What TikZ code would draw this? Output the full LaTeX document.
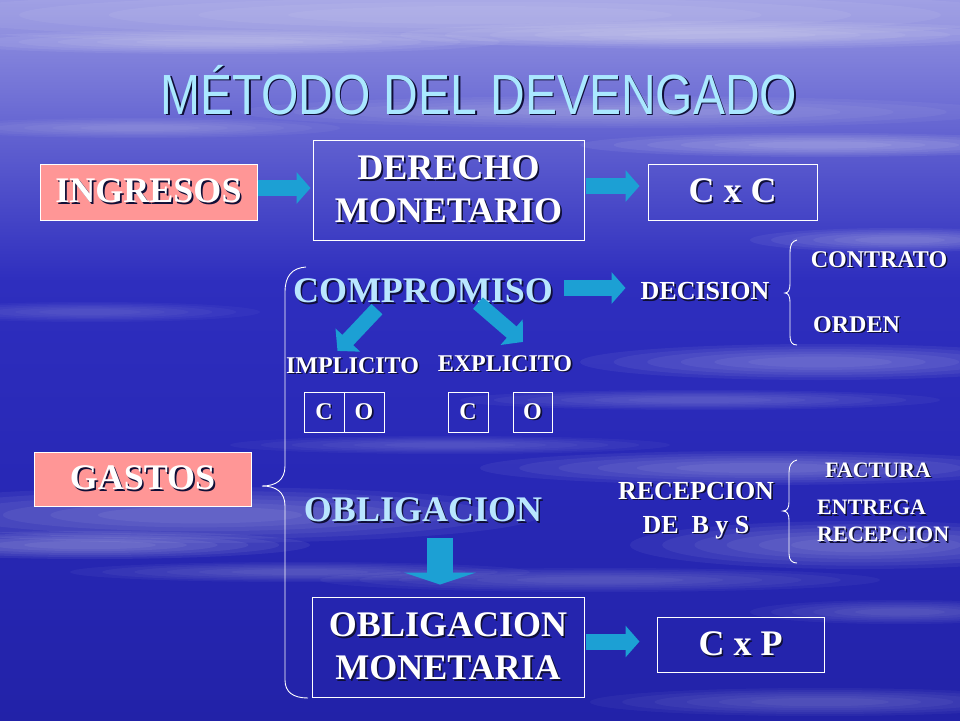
\documentclass[tikz,border=0pt]{standalone}
\usepackage{fontspec}
\usepackage{graphicx}
\setmainfont{Liberation Serif}
\newfontfamily\titlefont{Liberation Sans}
\usetikzlibrary{arrows.meta}
\definecolor{pinkc}{RGB}{255,150,150}
\definecolor{arrc}{RGB}{28,160,212}
\definecolor{cyanc}{RGB}{185,230,255}
\definecolor{titc}{RGB}{170,232,255}
\definecolor{shc}{RGB}{15,15,55}
\definecolor{bga}{RGB}{150,150,226}
\definecolor{bgb}{RGB}{96,96,208}
\definecolor{bgc}{RGB}{46,46,190}
\definecolor{bgd}{RGB}{40,40,182}
\definecolor{bge}{RGB}{34,34,168}
\newcommand\shtext[1]{\makebox[0pt][l]{\kern1.6pt\raisebox{-1.6pt}{\textcolor{shc}{#1}}}#1}
\newcommand\streak[5]{%
  \foreach \k in {1,0.86,0.72,0.58,0.44,0.3}{\fill[white,opacity=#5*0.45] (#1,#2) ellipse [x radius=\k*#3, y radius=\k*#4];}}
\tikzset{
  bigfont/.style={font=\bfseries\fontsize{36}{43}\selectfont},
  midfont/.style={font=\bfseries\fontsize{26}{34}\selectfont},
  smallfont/.style={font=\bfseries\fontsize{24}{28}\selectfont},
  tinyfont/.style={font=\bfseries\fontsize{22}{27}\selectfont},
  pinkbox/.style={fill=pinkc, draw=white, line width=1pt, inner sep=0pt, text=white, bigfont},
  wbox/.style={draw=white, line width=1pt, inner sep=0pt, text=white, align=center},
  lbl/.style={text=white, inner sep=2pt},
  cyanlbl/.style={text=cyanc, inner sep=2pt, bigfont},
  cobox/.style={draw=white, line width=1pt, minimum width=40pt, minimum height=40pt, inner sep=0pt, text=white, smallfont},
  barrow/.style={draw=arrc, line width=16pt, -{Triangle[width=31pt,length=14pt]}},
  darrow/.style={draw=arrc, line width=15pt, -{Triangle[width=33pt,length=15pt]}},
  downarrow/.style={draw=arrc, line width=26pt, -{Triangle[width=72pt,length=12pt]}},
  bracec/.style={draw=white, line width=0.9pt}
}
\begin{document}
\begin{tikzpicture}[x=1pt,y=-1pt]
\useasboundingbox (0,0) rectangle (960,720);
% background
\shade[top color=bga, bottom color=bgb] (0,0) rectangle (960,140.5);
\shade[top color=bgb, bottom color=bgc] (0,140) rectangle (960,280.5);
\shade[top color=bgc, bottom color=bgd] (0,280) rectangle (960,480.5);
\shade[top color=bgd, bottom color=bge] (0,480) rectangle (960,720);
% cloud streaks
\streak{480}{15}{640}{30}{0.12}
\streak{220}{42}{280}{12}{0.14}
\streak{720}{35}{320}{14}{0.14}
\streak{620}{112}{380}{16}{0.10}
\streak{820}{145}{240}{12}{0.14}
\streak{140}{128}{200}{10}{0.09}
\streak{900}{240}{150}{12}{0.12}
\streak{820}{362}{240}{18}{0.12}
\streak{700}{400}{240}{10}{0.09}
\streak{90}{312}{170}{10}{0.07}
\streak{200}{515}{340}{28}{0.12}
\streak{90}{545}{220}{14}{0.14}
\streak{760}{468}{280}{17}{0.12}
\streak{860}{545}{230}{24}{0.12}
\streak{600}{580}{280}{12}{0.09}
\streak{300}{572}{230}{10}{0.09}
\streak{820}{702}{230}{14}{0.09}
\streak{900}{612}{150}{12}{0.09}
\streak{450}{445}{220}{9}{0.08}
% title
\node[anchor=base, text=titc, font=\titlefont\fontsize{48}{50}\selectfont] (title) at (479,114) {\scalebox{1}[1.18]{\shtext{MÉTODO DEL DEVENGADO}}};
% top row
\node[pinkbox, minimum width=217pt, minimum height=56pt] (ing) at (148.5,192) {\shtext{INGRESOS}};
\node[wbox, bigfont, minimum width=271pt, minimum height=100pt] (der) at (448.5,190) {\shtext{DERECHO}\\\shtext{MONETARIO}};
\node[wbox, bigfont, minimum width=169pt, minimum height=56pt] (cxc) at (732.5,192) {\shtext{C x C}};
% compromiso
\node[cyanlbl] (comp) at (423,292) {\shtext{COMPROMISO}};
\node[lbl, midfont] (dec) at (705,292) {\shtext{DECISION}};
\node[lbl, smallfont] (contr) at (879,260) {\shtext{CONTRATO}};
\node[lbl, smallfont, anchor=west] (orden) at (811,325) {\shtext{ORDEN}};
\node[lbl, smallfont] (impl) at (352.5,366) {\shtext{IMPLICITO}};
\node[lbl, smallfont] (expl) at (505,364) {\shtext{EXPLICITO}};
\node[cobox] (ic) at (324,412) {\shtext{C}};
\node[cobox] (io) at (364,412) {\shtext{O}};
\node[cobox] (ec) at (468,412) {\shtext{C}};
\node[cobox, minimum width=39pt] (eo) at (532.5,412) {\shtext{O}};
% gastos
\node[pinkbox, minimum width=217pt, minimum height=54pt] (gas) at (142.5,479) {\shtext{GASTOS}};
\node[cyanlbl] (obl) at (423,511) {\shtext{OBLIGACION}};
\node[lbl, midfont, align=center] (rec) at (696,511) {\shtext{RECEPCION}\\\shtext{DE\ \ B y S}};
\node[lbl, tinyfont] (fact) at (878,471) {\shtext{FACTURA}};
\node[lbl, tinyfont, anchor=west, align=left] (entr) at (815,522) {\shtext{ENTREGA}\\\shtext{RECEPCION}};
\node[wbox, bigfont, minimum width=272pt, minimum height=100pt] (oblm) at (448,647) {\shtext{OBLIGACION}\\\shtext{MONETARIA}};
\node[wbox, bigfont, minimum width=167pt, minimum height=55pt] (cxp) at (740.5,644.5) {\shtext{C x P}};
% arrows
\draw[barrow] ([yshift=4pt]ing.east) -- ([yshift=2pt,xshift=-2pt]der.west);
\draw[barrow] ([yshift=4pt,xshift=1pt]der.east) -- ([yshift=6pt,xshift=-8pt]cxc.west);
\draw[barrow] ([yshift=4pt,xshift=9pt]comp.east) -- ([yshift=4pt,xshift=-13pt]dec.west);
\draw[darrow] ([xshift=-46pt,yshift=-2pt]comp.south) -- ([xshift=-15pt,yshift=4pt]impl.north);
\draw[darrow] ([xshift=55pt,yshift=4pt]comp.south) -- ([xshift=18pt,yshift=11pt]expl.north);
\draw[downarrow] ([xshift=17pt,yshift=-12pt]obl.south) -- ([xshift=-8pt,yshift=12pt]oblm.north);
\draw[barrow] ([yshift=5.5pt,xshift=1pt]oblm.east) -- ([yshift=3pt,xshift=-17pt]cxp.west);
% braces
\coordinate (b1t) at (306,267);
\coordinate (b1b) at (308,698);
\coordinate (b1m) at (262,486);
\draw[bracec] (b1t) .. controls (292,268) and (285,276) .. (285,292) -- (285,466) .. controls (285,480) and (276,486) .. (b1m) .. controls (276,486) and (285,492) .. (285,506) -- (285,680) .. controls (285,692) and (293,698) .. (b1b);
\coordinate (b2t) at (797,240);
\coordinate (b2b) at (797,345);
\coordinate (b2m) at (785,293);
\draw[bracec] (b2t) .. controls (792,241) and (790,245) .. (790,252) -- (790,284) .. controls (790,290) and (788,293) .. (b2m) .. controls (788,293) and (790,296) .. (790,302) -- (790,336) .. controls (790,342) and (792,345) .. (b2b);
\coordinate (b3t) at (797,460);
\coordinate (b3b) at (797,563);
\coordinate (b3m) at (783,511);
\draw[bracec] (b3t) .. controls (792,461) and (789,465) .. (789,472) -- (789,502) .. controls (789,508) and (787,511) .. (b3m) .. controls (787,511) and (789,514) .. (789,520) -- (789,554) .. controls (789,560) and (792,563) .. (b3b);
\end{tikzpicture}
\end{document}
